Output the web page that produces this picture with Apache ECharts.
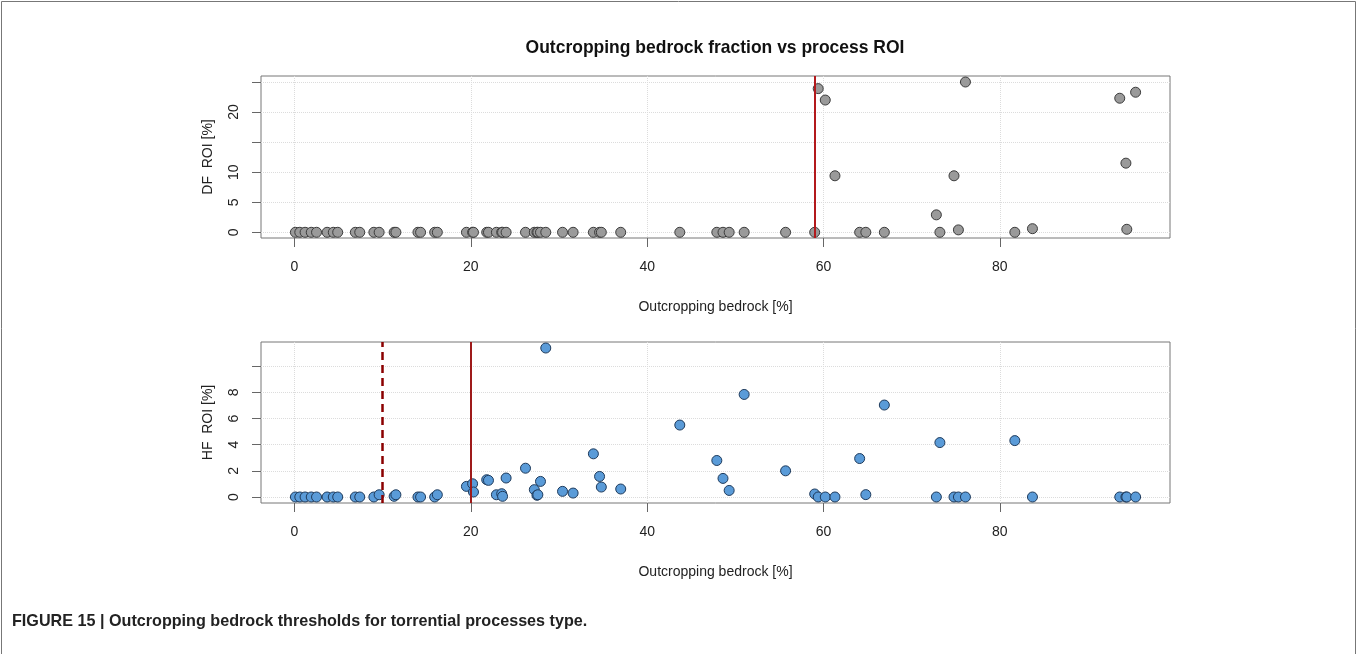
<!DOCTYPE html>
<html>
<head>
<meta charset="utf-8">
<script src="https://cdn.jsdelivr.net/npm/echarts@6/dist/echarts.min.js"></script>
<style>
  html, body { margin: 0; padding: 0; background: #fff; }
  #chart { width: 1357px; height: 654px; }
</style>
</head>
<body>
<div id="chart"></div>
<script>
// outcropping bedrock fraction of each catchment [%]
const bedrock = [0.1, 0.6, 1.2, 1.9, 2.5, 3.7, 4.4, 4.9, 6.9, 7.4, 9.0, 9.6, 11.3, 11.5, 14.0, 14.3,
  15.9, 16.2, 19.5, 20.2, 20.3, 21.8, 22.0, 22.9, 23.5, 23.6, 24.0, 26.2, 27.2, 27.5, 27.6, 27.9,
  28.5, 30.4, 31.6, 33.9, 34.6, 34.8, 37.0, 43.7, 47.9, 48.6, 49.3, 51.0, 55.7, 59.0, 59.4, 60.2,
  61.3, 64.1, 64.8, 66.9, 72.8, 73.2, 74.8, 75.3, 76.1, 81.7, 83.7, 93.6, 94.3, 94.4, 95.4]

// debris flow ROI [%]
const dfRoi = [0, 0, 0, 0, 0, 0, 0, 0, 0, 0, 0, 0, 0, 0, 0, 0,
  0, 0, 0, 0, 0, 0, 0, 0, 0, 0, 0, 0, 0, 0, 0, 0,
  0, 0, 0, 0, 0, 0, 0, 0, 0, 0, 0, 0, 0, 0, 23.9, 22.0,
  9.4, 0, 0, 0, 2.9, 0, 9.4, 0.4, 25.0, 0, 0.6, 22.3, 11.5, 0.5, 23.3]

// hyperconcentrated flow ROI [%]
const hfRoi = [0, 0, 0, 0, 0, 0, 0, 0, 0, 0, 0, 0.17, 0.05, 0.17, 0, 0,
  0, 0.17, 0.81, 1.01, 0.38, 1.32, 1.27, 0.17, 0.25, 0.05, 1.45, 2.2, 0.56, 0.13, 0.17, 1.19,
  11.39, 0.43, 0.3, 3.3, 1.57, 0.76, 0.61, 5.5, 2.79, 1.42, 0.5, 7.84, 2.0, 0.23, 0, 0,
  0, 2.94, 0.18, 7.03, 0, 4.16, 0, 0, 0, 4.31, 0, 0, 0, 0, 0]

const dfThresholds = [59]
const hfThresholdSolid = [20]
const hfThresholdDashed = [10]

const xTicks = [0, 20, 40, 60, 80]
const dfTicks = [0, 5, 10, 15, 20, 25]
const dfLabels = [0, 5, 10, 20]
const hfTicks = [0, 2, 4, 6, 8, 10]
const hfLabels = [0, 2, 4, 6, 8]

const FONT = '"Liberation Sans", Arial, sans-serif'

let pairs = function (ys) {
  return bedrock.map(function (x, i) { return [x, ys[i]] })
}

let xAxisFor = function (gridIndex) {
  return {
    type: 'value',
    gridIndex: gridIndex,
    min: -3.8,
    max: 99.3,
    name: 'Outcropping bedrock [%]',
    nameLocation: 'middle',
    nameGap: 62,
    nameTextStyle: { fontFamily: FONT, fontSize: 14, color: '#222' },
    axisLine: { show: false, onZero: false },
    axisTick: { show: true, length: 9, customValues: xTicks, lineStyle: { color: '#666' } },
    axisLabel: { customValues: xTicks, margin: 22, fontFamily: FONT, fontSize: 14, color: '#222' },
    splitLine: { show: true, lineStyle: { color: '#dcdcdc', type: 'dotted' } }
  }
}

let yAxisFor = function (gridIndex, name, min, max, ticks, labels) {
  return {
    type: 'value',
    gridIndex: gridIndex,
    min: min,
    max: max,
    name: name,
    nameLocation: 'middle',
    nameGap: 46,
    nameTextStyle: { fontFamily: FONT, fontSize: 14, color: '#222' },
    axisLine: { show: false, onZero: false },
    axisTick: { show: true, length: 9, customValues: ticks, lineStyle: { color: '#666' } },
    axisLabel: { customValues: labels, rotate: 90, margin: 20, fontFamily: FONT, fontSize: 14, color: '#222' },
    splitLine: { show: true, lineStyle: { color: '#dcdcdc', type: 'dotted' } }
  }
}

let vLines = function (values, color, type, width) {
  return {
    silent: true,
    symbol: 'none',
    label: { show: false },
    lineStyle: { color: color, type: type, width: width },
    data: values.map(function (v) { return { xAxis: v } })
  }
}

let chart = echarts.init(document.getElementById('chart'))

chart.setOption({
  backgroundColor: '#fff',
  animation: false,
  grid: [
    { left: 261, top: 76, width: 909, height: 162, show: true, borderColor: '#777', borderWidth: 1, backgroundColor: 'transparent' },
    { left: 261, top: 342, width: 909, height: 161, show: true, borderColor: '#777', borderWidth: 1, backgroundColor: 'transparent' }
  ],
  xAxis: [xAxisFor(0), xAxisFor(1)],
  yAxis: [
    yAxisFor(0, 'DF  ROI [%]', -0.95, 26.0, dfTicks, dfLabels),
    yAxisFor(1, 'HF  ROI [%]', -0.46, 11.85, hfTicks, hfLabels)
  ],
  graphic: [
    {
      type: 'rect',
      shape: { x: 1.5, y: 1.5, width: 1354, height: 700 },
      style: { fill: 'none', stroke: '#777', lineWidth: 1 }
    },
    {
      type: 'text',
      x: 715,
      y: 48,
      scaleX: 0.92,
      style: {
        text: 'Outcropping bedrock fraction vs process ROI',
        font: 'bold 19px ' + FONT,
        fill: '#111',
        textAlign: 'center',
        textVerticalAlign: 'middle'
      }
    },
    {
      type: 'text',
      x: 12,
      y: 621,
      scaleX: 0.95,
      style: {
        text: 'FIGURE 15 | Outcropping bedrock thresholds for torrential processes type.',
        font: 'bold 17px ' + FONT,
        fill: '#222',
        textAlign: 'left',
        textVerticalAlign: 'middle'
      }
    }
  ],
  series: [
    {
      type: 'scatter',
      xAxisIndex: 0,
      yAxisIndex: 0,
      symbolSize: 10,
      itemStyle: { color: '#9a9a9a', borderColor: '#3c3c3c', borderWidth: 1, opacity: 1 },
      data: pairs(dfRoi),
      markLine: vLines(dfThresholds, '#b3191c', 'solid', 2)
    },
    {
      type: 'scatter',
      xAxisIndex: 1,
      yAxisIndex: 1,
      symbolSize: 10,
      itemStyle: { color: '#5a9bd8', borderColor: '#1f3b5c', borderWidth: 1, opacity: 1 },
      data: pairs(hfRoi),
      markLine: vLines(hfThresholdSolid, '#9e1a1a', 'solid', 2)
    },
    {
      type: 'scatter',
      xAxisIndex: 1,
      yAxisIndex: 1,
      data: [],
      markLine: vLines(hfThresholdDashed, '#8b0000', [8, 5], 2.5)
    }
  ]
})
</script>
</body>
</html>
